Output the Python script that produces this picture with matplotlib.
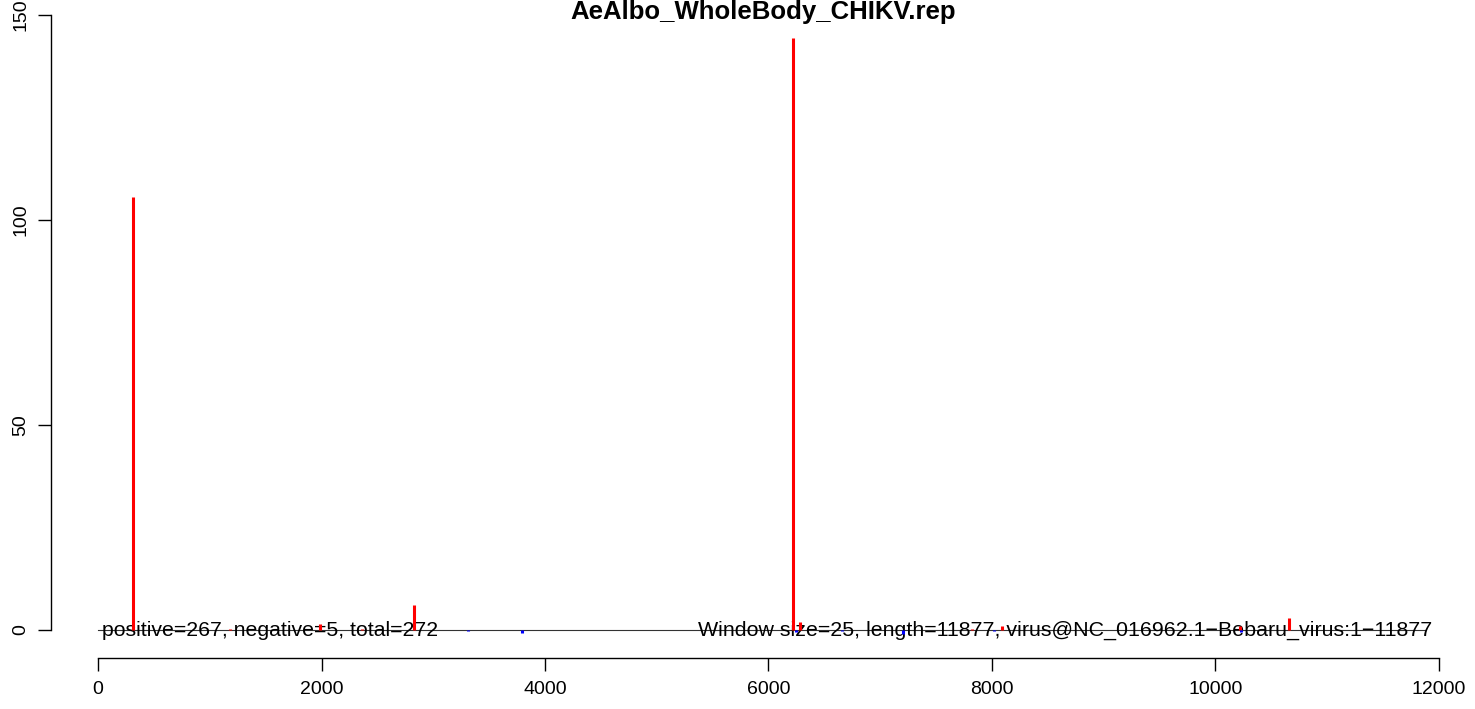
import matplotlib
matplotlib.use("Agg")
import matplotlib.pyplot as plt

plt.rcParams['font.family'] = ['Liberation Sans', 'DejaVu Sans']

# reads counted per window (positive strand red, negative strand blue)
pos_x = [313, 1180, 1984, 2360, 2824, 6220, 6283, 7820, 8088, 10215, 10662]
pos_y = [105.5, 0.3, 1.5, 0.3, 6.1, 144.5, 2.0, 0.3, 1.0, 1.0, 3.0]
neg_x = [3307, 3798, 6250, 6658, 7203, 8016, 10225]
neg_y = [-0.3, -0.7, -0.5, -0.3, -1.0, -0.3, -0.5]

title = "AeAlbo_WholeBody_CHIKV.rep"
left_text = "positive=267, negative=5, total=272"
right_text = "Window size=25, length=11877, virus@NC_016962.1\u2212Bebaru_virus:1\u221211877"
seq_len = 11877

W, H = 1475, 709
fig = plt.figure(figsize=(W / 100, H / 100), dpi=100)
# axes box in pixels: left 51, right 1475, top 10, bottom 640
ax = fig.add_axes([51 / W, (H - 640) / H, (1475 - 51) / W, (640 - 10) / H])

px = 1341.0 / 12000  # pixels per unit on x
py = 615.0 / 150     # pixels per unit on y
ax.set_xlim(-(98 - 51) / px, (1475 - 98) / px)
ax.set_ylim(-10 / py, 150 + 5 / py)

# baseline
ax.plot([1, seq_len], [0, 0], color='#333333', lw=0.8, zorder=1)

ax.text(40, 0, left_text, ha='left', va='center', fontsize=15.3, zorder=2)
ax.text(seq_len + 60, 0, right_text, ha='right', va='center', fontsize=15.4, zorder=2)

ax.vlines(pos_x, 0, pos_y, color='red', lw=2.2, zorder=3)
ax.vlines(neg_x, 0, neg_y, color='blue', lw=2.2, zorder=3)

for s in ['top', 'right']:
    ax.spines[s].set_visible(False)
ax.spines['left'].set_bounds(0, 150)
ax.spines['bottom'].set_bounds(0, 12000)
ax.spines['bottom'].set_position(('outward', 13))
ax.spines['left'].set_linewidth(1.0)
ax.spines['bottom'].set_linewidth(1.0)

ax.set_xticks([0, 2000, 4000, 6000, 8000, 10000, 12000])
ax.set_yticks([0, 50, 100, 150])
ax.tick_params(axis='both', length=9.5, width=1.0, labelsize=14)
ax.tick_params(axis='x', pad=7)
ax.tick_params(axis='y', pad=6)
for lab in ax.get_yticklabels():
    lab.set_rotation(90)
    lab.set_va('center')

fig.text((51 + 1475) / 2 / W, 1 - 19 / H, title, ha='center', va='baseline',
         fontsize=18.5, fontweight='bold')

fig.savefig("out.png", dpi=100)
